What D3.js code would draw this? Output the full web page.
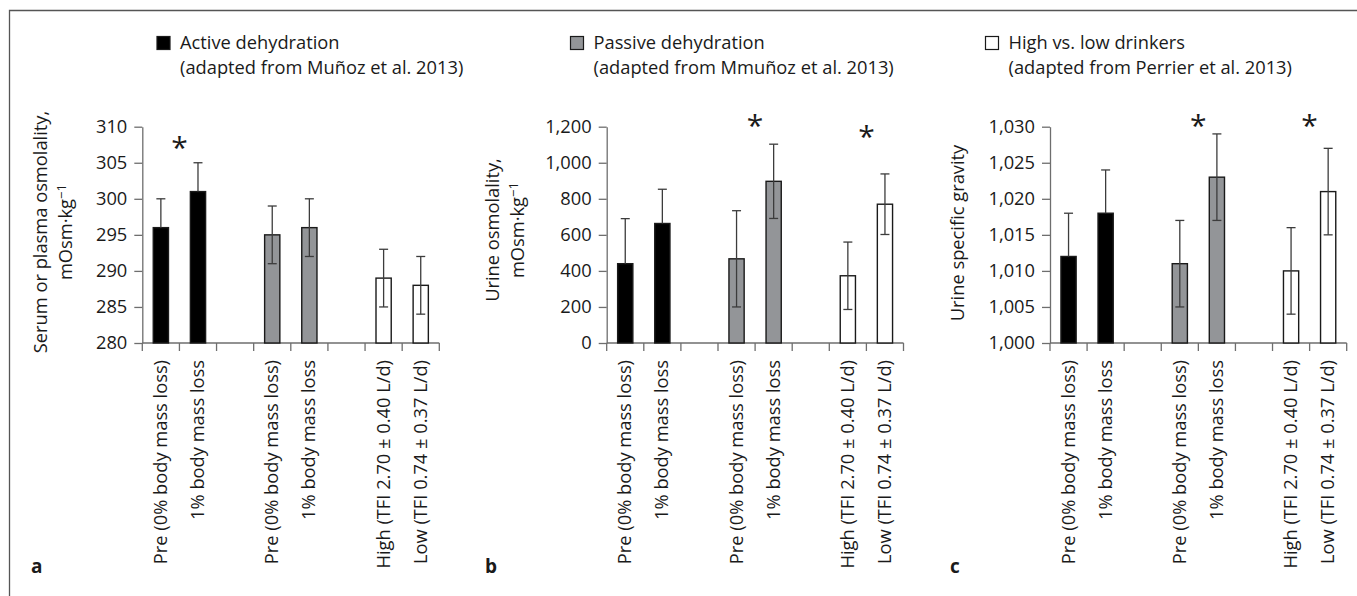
<!DOCTYPE html>
<html><head><meta charset="utf-8">
<script src="https://cdn.jsdelivr.net/npm/d3@7"></script>
<style>
body{margin:0;background:#fff}
svg{display:block}
text{font-family:"Open Sans",sans-serif;fill:#1a1a1a}
</style>
</head><body>
<svg id="chart" width="1357" height="596"></svg>
<script>
// ---------- data ----------
const slotCount = 8;                       // 8 slots per panel, gaps in slots 2 and 5
const barSlots = [0, 1, 3, 4, 6, 7];
const barGroups = ["active", "active", "passive", "passive", "drinkers", "drinkers"];
const barLabels = [
  "Pre (0% body mass loss)", "1% body mass loss",
  "Pre (0% body mass loss)", "1% body mass loss",
  "High (TFI 2.70 \u00b1 0.40 L/d)", "Low (TFI 0.74 \u00b1 0.37 L/d)"
];

const serumMean = [296, 301, 295, 296, 289, 288];
const serumErr  = [4, 4, 4, 4, 4, 4];
const serumTicks = [280, 285, 290, 295, 300, 305, 310];
const serumStarBars = [1];
const serumStarY = [307.8];

const urineOsmMean = [440, 663, 467, 897, 373, 770];
const urineOsmErr  = [250, 190, 267, 206, 187, 168];
const urineOsmTicks = [0, 200, 400, 600, 800, 1000, 1200];
const urineOsmStarBars = [3, 5];
const urineOsmStarY = [1237, 1172];

const usgMean = [1012, 1018, 1011, 1023, 1010, 1021];
const usgErr  = [6, 6, 6, 6, 6, 6];
const usgTicks = [1000, 1005, 1010, 1015, 1020, 1025, 1030];
const usgStarBars = [3, 5];
const usgStarY = [1030.9, 1030.9];

const legendTitles = ["Active dehydration", "Passive dehydration", "High vs. low drinkers"];
const legendSources = ["(adapted from Mu\u00f1oz et al. 2013)", "(adapted from Mmu\u00f1oz et al. 2013)", "(adapted from Perrier et al. 2013)"];
const legendGroups = ["active", "passive", "drinkers"];

// ---------- style ----------
const fillOf = {active: "#000000", passive: "#939598", drinkers: "#ffffff"};
const axisColor = "#6e6e6e";
const errColor = "#3c3c3c";
const FS = 18.3;

const svg = d3.select("#chart");

// frame (top and left rules)
svg.append("path").attr("d", "M9.5,596 V10.5 H1357")
  .attr("fill", "none").attr("stroke", "#555").attr("stroke-width", 1.3);

const yTop = 126.7, yBot = 343;

const panels = [
  {x0: 142.3, x1: 439.3, mean: serumMean, err: serumErr, ticks: serumTicks, domain: [280, 310],
   fmt: d3.format("d"), starBars: serumStarBars, starY: serumStarY,
   ylabel: ["Serum or plasma osmolality,", "mOsm\u00b7kg\u207b\u00b9"], labelX: [46.5, 71.5], labelY: 232,
   letter: "a", letterX: 31, legendX: 156.5},
  {x0: 606.7, x1: 903.5, mean: urineOsmMean, err: urineOsmErr, ticks: urineOsmTicks, domain: [0, 1200],
   fmt: d3.format(","), starBars: urineOsmStarBars, starY: urineOsmStarY,
   ylabel: ["Urine osmolality,", "mOsm\u00b7kg\u207b\u00b9"], labelX: [499, 524], labelY: 230,
   letter: "b", letterX: 485, legendX: 570},
  {x0: 1050, x1: 1346.7, mean: usgMean, err: usgErr, ticks: usgTicks, domain: [1000, 1030],
   fmt: d3.format(","), starBars: usgStarBars, starY: usgStarY,
   ylabel: ["Urine specific gravity"], labelX: [964], labelY: 233,
   letter: "c", letterX: 950, legendX: 985}
];

panels.forEach((p, pi) => {
  const g = svg.append("g");
  const x = d3.scaleBand().domain(d3.range(slotCount)).range([p.x0, p.x1]).padding(0);
  const y = d3.scaleLinear().domain(p.domain).range([yBot, yTop]);
  const bw = x.bandwidth() * 0.41;

  // y axis
  const yAxis = d3.axisLeft(y).tickValues(p.ticks).tickFormat(p.fmt).tickSize(8).tickPadding(7).tickSizeOuter(0);
  const ya = g.append("g").attr("transform", `translate(${p.x0},0)`).call(yAxis);
  ya.select(".domain").attr("stroke", axisColor).attr("stroke-width", 1.3);
  ya.selectAll(".tick line").attr("stroke", axisColor).attr("stroke-width", 1.3);
  ya.selectAll(".tick text").attr("font-size", FS).attr("font-family", "Open Sans").attr("fill", "#1a1a1a");

  // x axis: line + ticks at slot boundaries
  const bounds = d3.range(slotCount + 1).map(i => i < slotCount ? x(i) : p.x1);
  g.append("line").attr("x1", p.x0).attr("x2", p.x1).attr("y1", yBot).attr("y2", yBot)
    .attr("stroke", axisColor).attr("stroke-width", 1.3);
  g.selectAll(".xt").data(bounds).join("line")
    .attr("x1", d => d).attr("x2", d => d).attr("y1", yBot).attr("y2", yBot + 8)
    .attr("stroke", axisColor).attr("stroke-width", 1.3);

  // bars
  const items = barSlots.map((s, i) => ({slot: s, group: barGroups[i], v: p.mean[i], e: p.err[i], label: barLabels[i]}));
  g.selectAll(".bar").data(items).join("rect")
    .attr("x", d => x(d.slot) + (x.bandwidth() - bw) / 2)
    .attr("width", bw)
    .attr("y", d => y(d.v))
    .attr("height", d => yBot - y(d.v))
    .attr("fill", d => fillOf[d.group])
    .attr("stroke", "#1a1a1a").attr("stroke-width", 1.4);

  // error bars
  const eb = g.selectAll(".eb").data(items).join("g");
  const cx = d => x(d.slot) + x.bandwidth() / 2;
  const lo = d => d.group === "active" ? d.v : d.v - d.e;
  eb.append("line").attr("x1", cx).attr("x2", cx)
    .attr("y1", d => y(lo(d))).attr("y2", d => y(d.v + d.e))
    .attr("stroke", errColor).attr("stroke-width", 1.3);
  eb.append("line").attr("x1", d => cx(d) - 4.5).attr("x2", d => cx(d) + 4.5)
    .attr("y1", d => y(d.v + d.e)).attr("y2", d => y(d.v + d.e))
    .attr("stroke", errColor).attr("stroke-width", 1.3);
  eb.filter(d => d.group !== "active").append("line")
    .attr("x1", d => cx(d) - 4.5).attr("x2", d => cx(d) + 4.5)
    .attr("y1", d => y(d.v - d.e)).attr("y2", d => y(d.v - d.e))
    .attr("stroke", errColor).attr("stroke-width", 1.3);

  // category labels
  g.selectAll(".xl").data(items).join("text")
    .attr("transform", d => `translate(${cx(d)},${yBot + 17}) rotate(-90)`)
    .attr("text-anchor", "end").attr("dy", "0.33em")
    .attr("font-size", FS).text(d => d.label);

  // significance stars
  g.selectAll(".star").data(p.starBars.map((b, i) => ({slot: barSlots[b], v: p.starY[i]}))).join("text")
    .attr("x", d => x(d.slot)).attr("y", d => y(d.v))
    .attr("dy", "0.52em").attr("text-anchor", "middle")
    .attr("font-size", 30).attr("font-family", "DejaVu Sans").text("*");

  // y label
  p.ylabel.forEach((t, li) => {
    const tx = g.append("text")
      .attr("transform", `translate(${p.labelX[li]},${p.labelY}) rotate(-90)`)
      .attr("text-anchor", "middle").attr("font-size", FS);
    if (t.indexOf("\u207b") >= 0) {
      tx.append("tspan").text("mOsm\u00b7kg");
      tx.append("tspan").attr("dy", "-0.45em").attr("font-size", FS * 0.72).text("\u2212" + "1");
    } else tx.text(t);
  });

  // panel letter
  g.append("text").attr("x", p.letterX).attr("y", 573).attr("font-size", 19).attr("font-weight", "bold").text(p.letter);

  // legend
  const lg = legendGroups[pi];
  g.append("rect").attr("x", p.legendX + 0.5).attr("y", 36.5).attr("width", 13).attr("height", 13)
    .attr("fill", fillOf[lg]).attr("stroke", "#1a1a1a").attr("stroke-width", 1.2);
  g.append("text").attr("x", p.legendX + 23.5).attr("y", 49).attr("font-size", FS).text(legendTitles[pi]);
  g.append("text").attr("x", p.legendX + 23.5).attr("y", 73.5).attr("font-size", FS).text(legendSources[pi]);
});
</script>
</body></html>
